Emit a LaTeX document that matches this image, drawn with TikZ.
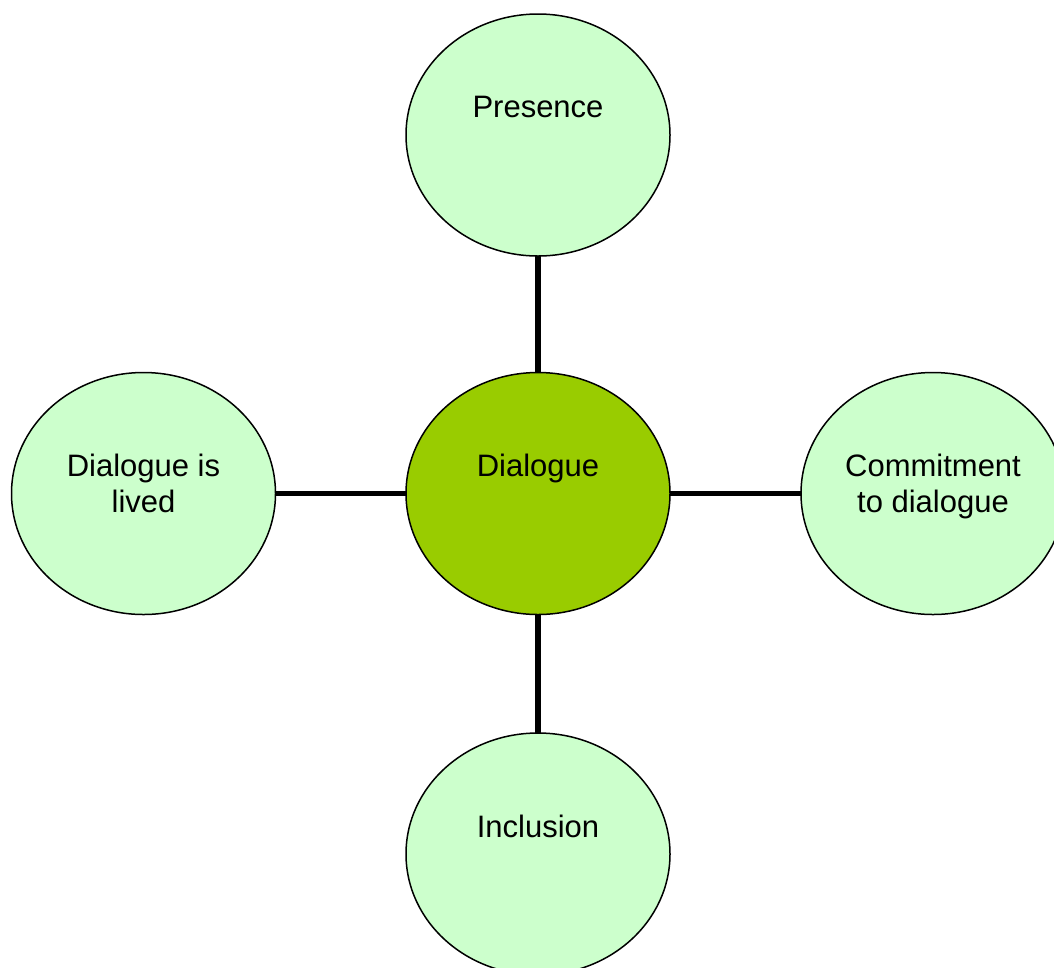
\documentclass[tikz,border=0pt]{standalone}
\usepackage{fontspec}
\setmainfont{Liberation Sans}
\usetikzlibrary{shapes.geometric}
\begin{document}
\begin{tikzpicture}[x=1pt,y=-1pt,
  bubble/.style={ellipse,draw=black,line width=1.5pt,fill=lightg,minimum width=264pt,minimum height=242pt,inner sep=0pt,outer sep=0pt},
  hub/.style={bubble,fill=hubg},
  lbl/.style={anchor=north,inner sep=0pt,align=center,font=\fontsize{31pt}{36pt}\selectfont},
  link/.style={line width=5.5pt,black}]
\definecolor{lightg}{HTML}{CCFFCC}
\definecolor{hubg}{HTML}{99CC00}
\useasboundingbox (0,0) rectangle (1054,967);
\node[bubble] (pres) at (538,135) {};
\node[hub] (dia) at (538,493.5) {};
\node[bubble] (lived) at (143.5,493.5) {};
\node[bubble] (comm) at (933,493.5) {};
\node[bubble] (incl) at (538,854) {};
\node[lbl] (tpres) at (538,96) {Presence};
\node[lbl] (tdia) at (538,454) {Dialogue};
\node[lbl] (tlived) at (143.5,454) {Dialogue is\\lived};
\node[lbl] (tcomm) at (933,454) {Commitment\\to dialogue};
\node[lbl] (tincl) at (538,815) {Inclusion};
\draw[link] (pres.south) -- (dia.north);
\draw[link] (dia.south) -- (incl.north);
\draw[link] (lived.east) -- (dia.west);
\draw[link] (dia.east) -- (comm.west);
\end{tikzpicture}
\end{document}
